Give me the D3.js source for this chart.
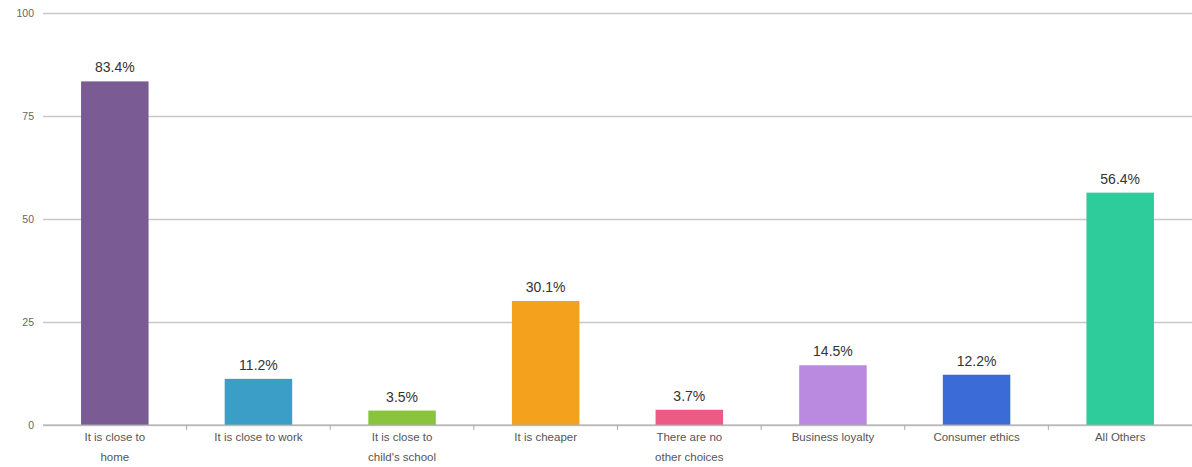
<!DOCTYPE html>
<html>
<head>
<meta charset="utf-8">
<script src="https://cdn.jsdelivr.net/npm/d3@7"></script>
<style>
  html, body { margin: 0; padding: 0; background: #fff; }
  svg { display: block; font-family: "Liberation Sans", Arial, sans-serif; }
</style>
</head>
<body>
<svg id="chart" width="1192" height="467"></svg>
<script>
// Reasons for choosing a store (% of respondents)
const categories = [
  ["It is close to", "home"],
  ["It is close to work"],
  ["It is close to", "child's school"],
  ["It is cheaper"],
  ["There are no", "other choices"],
  ["Business loyalty"],
  ["Consumer ethics"],
  ["All Others"]
];
const values = [83.4, 11.2, 3.5, 30.1, 3.7, 14.5, 12.2, 56.4];
const colors = ["#7a5b93", "#3a9ec6", "#8ac43f", "#f4a11d", "#ec5a86", "#ba89e0", "#3a6bd6", "#2fcc9b"];
const yTicks = [0, 25, 50, 75, 100];

const svg = d3.select("#chart");
const width = 1192, height = 467;
const margin = { left: 43, right: 0, top: 13, bottom: 42 };

const keys = categories.map((c, i) => i);
const x = d3.scaleBand()
  .domain(keys)
  .range([margin.left, width - margin.right])
  .paddingInner(0.53)
  .paddingOuter(0.265);

const y = d3.scaleLinear()
  .domain([0, 100])
  .range([height - margin.bottom, margin.top]);

// horizontal gridlines with tick labels
const yAxis = svg.append("g")
  .attr("transform", `translate(${margin.left},0)`)
  .call(d3.axisLeft(y).tickValues(yTicks).tickSize(-(width - margin.left)).tickPadding(9));
yAxis.select(".domain").remove();
yAxis.selectAll(".tick line").attr("stroke", "#c8c8c8").attr("stroke-width", 1.5);
yAxis.selectAll(".tick text")
  .attr("fill", "#666").style("font-size", "10.5px");

// bars
svg.append("g").selectAll("rect")
  .data(values)
  .join("rect")
  .attr("x", (d, i) => x(i))
  .attr("y", d => y(d))
  .attr("width", x.bandwidth())
  .attr("height", d => y(0) - y(d))
  .attr("fill", (d, i) => colors[i]);

// value labels
svg.append("g").selectAll("text")
  .data(values)
  .join("text")
  .attr("x", (d, i) => x(i) + x.bandwidth() / 2)
  .attr("y", d => y(d) - 9)
  .attr("text-anchor", "middle")
  .attr("fill", "#333")
  .style("font-size", "14px")
  .text(d => d.toFixed(1) + "%");

// x baseline and separators between categories
const axisY = y(0);
svg.append("line")
  .attr("x1", margin.left).attr("x2", width)
  .attr("y1", axisY).attr("y2", axisY)
  .attr("stroke", "#aaa").attr("stroke-width", 1);

const step = x.step();
svg.append("g").selectAll("line")
  .data(d3.range(1, categories.length))
  .join("line")
  .attr("x1", k => margin.left + k * step)
  .attr("x2", k => margin.left + k * step)
  .attr("y1", axisY).attr("y2", axisY + 5)
  .attr("stroke", "#aaa");

// category labels
const labels = svg.append("g").selectAll("text")
  .data(categories)
  .join("text")
  .attr("x", (d, i) => x(i) + x.bandwidth() / 2)
  .attr("y", axisY + 16)
  .attr("text-anchor", "middle")
  .attr("fill", "#555")
  .style("font-size", "11.5px");
labels.selectAll("tspan")
  .data(d => d)
  .join("tspan")
  .attr("x", function () { return d3.select(this.parentNode).attr("x"); })
  .attr("dy", (d, i) => i === 0 ? 0 : 20)
  .text(d => d);
</script>
</body>
</html>
